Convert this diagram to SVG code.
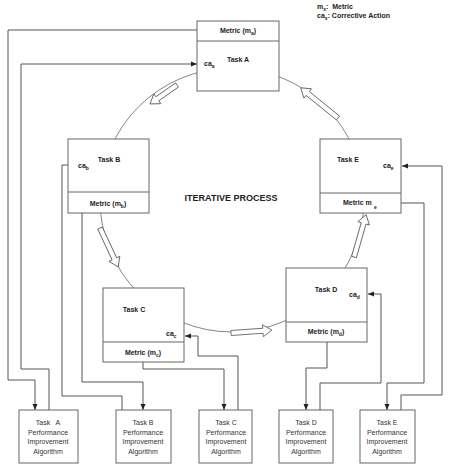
<svg xmlns="http://www.w3.org/2000/svg" width="450" height="466" viewBox="0 0 450 466">
<style>
text{font-family:"Liberation Sans",Arial,sans-serif;fill:#222}
.lbl{font-size:7px;font-weight:bold}
.sub{font-size:5px}
.alg{font-size:7px;fill:#333;text-anchor:middle}
.box{fill:#fff;stroke:#666;stroke-width:1}
.div{stroke:#666;stroke-width:1}
.con{fill:none;stroke:#555;stroke-width:1}
.blk{fill:#fff;stroke:#555;stroke-width:0.8}
</style>
<defs>
<marker id="ah" markerUnits="userSpaceOnUse" markerWidth="6" markerHeight="6" refX="6" refY="3" orient="auto">
<path d="M0,0.5 L6,3 L0,5.5 z" fill="#222"/>
</marker>
</defs>
<rect width="450" height="466" fill="#fff"/>

<g id="cycle">
<circle cx="232" cy="200" r="132" fill="none" stroke="#666" stroke-width="0.8"/>
<polygon class="blk" transform="translate(177,85) rotate(145)" points="0,-2.5 24,-2.5 24,-6 33,0 24,6 24,2.5 0,2.5"/>
<polygon class="blk" transform="translate(100,228) rotate(65)" points="0,-2.5 34,-2.5 34,-6 43,0 34,6 34,2.5 0,2.5"/>
<polygon class="blk" transform="translate(231,333) rotate(-4)" points="0,-2.5 32,-2.5 32,-6 41,0 32,6 32,2.5 0,2.5"/>
<polygon class="blk" transform="translate(354,257) rotate(-74)" points="0,-2.5 35,-2.5 35,-6 44,0 35,6 35,2.5 0,2.5"/>
<polygon class="blk" transform="translate(338,118) rotate(-141)" points="0,-2.5 39,-2.5 39,-6 48,0 39,6 39,2.5 0,2.5"/>
<text x="231" y="201" style="font-size:9px;font-weight:bold" text-anchor="middle">ITERATIVE PROCESS</text>
</g>

<g id="legend" class="lbl">
<text x="317" y="9" class="lbl">m<tspan class="sub" dy="2">x</tspan><tspan dy="-2">:&#160; Metric</tspan></text>
<text x="317" y="18" class="lbl">ca<tspan class="sub" dy="2">x</tspan><tspan dy="-2">: Corrective Action</tspan></text>
</g>

<g id="connectors">
<path class="con" d="M197,30 H8 V380 H35 V410" marker-end="url(#ah)"/>
<path class="con" d="M49,410 V369 H21 V64 H197" marker-end="url(#ah)"/>
<path class="con" d="M82,213 V382 H143 V410" marker-end="url(#ah)"/>
<path class="con" d="M122,410 V396 H62 V165 H75" marker-end="url(#ah)"/>
<path class="con" d="M143,362 V369 H224 V410" marker-end="url(#ah)"/>
<path class="con" d="M238,410 V356 H198 V336 H185" marker-end="url(#ah)"/>
<path class="con" d="M327,342 V368 H306 V410" marker-end="url(#ah)"/>
<path class="con" d="M320,410 V383 H381 V294 H368" marker-end="url(#ah)"/>
<path class="con" d="M401,203 H424 V383 H387 V410" marker-end="url(#ah)"/>
<path class="con" d="M401,410 V395 H442 V166 H402" marker-end="url(#ah)"/>
</g>

<g id="taskA">
<rect class="box" x="197" y="21" width="82" height="70"/>
<line class="div" x1="197" y1="41" x2="279" y2="41"/>
<text class="lbl" x="238" y="33" text-anchor="middle">Metric (m<tspan class="sub" dy="2">a</tspan><tspan dy="-2">)</tspan></text>
<text class="lbl" x="238" y="62" text-anchor="middle">Task A</text>
<text class="lbl" x="204" y="66">ca<tspan class="sub" dy="2">a</tspan></text>
</g>

<g id="taskB">
<rect class="box" x="68" y="139" width="81" height="74"/>
<line class="div" x1="68" y1="192" x2="149" y2="192"/>
<text class="lbl" x="109" y="162" text-anchor="middle">Task B</text>
<text class="lbl" x="78" y="168">ca<tspan class="sub" dy="2">b</tspan></text>
<text class="lbl" x="108" y="206" text-anchor="middle">Metric (m<tspan class="sub" dy="2">b</tspan><tspan dy="-2">)</tspan></text>
</g>

<g id="taskC">
<rect class="box" x="103" y="288" width="81" height="74"/>
<line class="div" x1="103" y1="342" x2="184" y2="342"/>
<text class="lbl" x="134" y="312" text-anchor="middle">Task C</text>
<text class="lbl" x="166" y="336">ca<tspan class="sub" dy="2">c</tspan></text>
<text class="lbl" x="143" y="355" text-anchor="middle">Metric (m<tspan class="sub" dy="2">c</tspan><tspan dy="-2">)</tspan></text>
</g>

<g id="taskD">
<rect class="box" x="286" y="268" width="81" height="74"/>
<line class="div" x1="286" y1="322" x2="367" y2="322"/>
<text class="lbl" x="326" y="292" text-anchor="middle">Task D</text>
<text class="lbl" x="349" y="297">ca<tspan class="sub" dy="2">d</tspan></text>
<text class="lbl" x="326" y="334" text-anchor="middle">Metric (m<tspan class="sub" dy="2">d</tspan><tspan dy="-2">)</tspan></text>
</g>

<g id="taskE">
<rect class="box" x="320" y="139" width="81" height="74"/>
<line class="div" x1="320" y1="193" x2="401" y2="193"/>
<text class="lbl" x="348" y="162" text-anchor="middle">Task E</text>
<text class="lbl" x="383" y="168">ca<tspan class="sub" dy="2">e</tspan></text>
<text class="lbl" x="343" y="205">Metric m</text>
<text class="lbl sub" x="374" y="209">e</text>
</g>

<g id="algA">
<rect class="box" x="19" y="410" width="59" height="53"/>
<text class="alg" x="48" y="425">Task&#160;&#160; A</text>
<text class="alg" x="48" y="435">Performance</text>
<text class="alg" x="48" y="444">Improvement</text>
<text class="alg" x="48" y="454">Algorithm</text>
</g>
<g id="algB">
<rect class="box" x="116" y="410" width="55" height="53"/>
<text class="alg" x="143" y="425">Task B</text>
<text class="alg" x="143" y="435">Performance</text>
<text class="alg" x="143" y="444">Improvement</text>
<text class="alg" x="143" y="454">Algorithm</text>
</g>
<g id="algC">
<rect class="box" x="199" y="410" width="53" height="53"/>
<text class="alg" x="226" y="425">Task C</text>
<text class="alg" x="226" y="435">Performance</text>
<text class="alg" x="226" y="444">Improvement</text>
<text class="alg" x="226" y="454">Algorithm</text>
</g>
<g id="algD">
<rect class="box" x="279" y="410" width="54" height="53"/>
<text class="alg" x="306" y="425">Task D</text>
<text class="alg" x="306" y="435">Performance</text>
<text class="alg" x="306" y="444">Improvement</text>
<text class="alg" x="306" y="454">Algorithm</text>
</g>
<g id="algE">
<rect class="box" x="360" y="410" width="55" height="53"/>
<text class="alg" x="387" y="425">Task E</text>
<text class="alg" x="387" y="435">Performance</text>
<text class="alg" x="387" y="444">Improvement</text>
<text class="alg" x="387" y="454">Algorithm</text>
</g>
</svg>
